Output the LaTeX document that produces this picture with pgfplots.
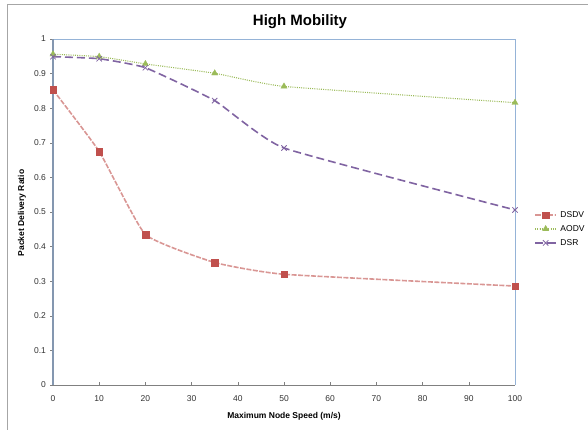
\documentclass[border=0pt]{standalone}
\usepackage{pgfplots}
\pgfplotsset{compat=1.18}
\usepackage{fontspec}
\setmainfont{Liberation Sans}
\definecolor{dsdvline}{HTML}{D99694}
\definecolor{dsdvmark}{HTML}{C0504D}
\definecolor{aodv}{HTML}{9BBB59}
\definecolor{dsr}{HTML}{8064A2}
\definecolor{leftax}{HTML}{8497B0}
\definecolor{topax}{HTML}{95B3D7}
\definecolor{frame}{HTML}{A6A6A6}
\begin{document}
\begin{tikzpicture}[x=1pt,y=1pt]
\useasboundingbox (0,0) rectangle (588,429);
\draw[frame, line width=0.8pt] (7,-2) -- (7,425) -- (590,425);
\node[anchor=base, font=\bfseries\fontsize{15}{18}\selectfont] at (300,403) {High Mobility};
\node[anchor=base, font=\bfseries\fontsize{8.5}{10}\selectfont] at (284,11) {Maximum Node Speed (m/s)};
\node[rotate=90, font=\bfseries\fontsize{8.5}{10}\selectfont] at (22,216) {Packet Delivery Ratio};
\begin{axis}[
  at={(53pt,44pt)}, anchor=south west,
  width=462pt, height=346pt, scale only axis,
  xmin=0, xmax=100, ymin=0, ymax=1,
  xtick={0,10,...,100}, ytick={0,0.1,...,1},
  axis line style={draw=none},
  clip=false,
  tick align=inside,
  major tick length=3pt,
  xtick pos=bottom, ytick pos=left,
  x tick style={black!50, line width=0.5pt},
  y tick style={black!50, line width=0.5pt, xshift=-3pt},
  /pgf/number format/assume math mode=true,
  ticklabel style={font=\fontsize{8.5}{10}\selectfont, text=black!80},
  xticklabel style={yshift=-7pt},
  yticklabel style={xshift=-3.5pt},
  yticklabel style={/pgf/number format/fixed},
  legend style={draw=none, fill=none, at={(1.035,0.451)}, anchor=west,
    font=\fontsize{8.5}{10}\selectfont, row sep=2.5pt, column sep=1.5pt},
  legend cell align=left,
  legend image code/.code={\draw[mark repeat=2,mark phase=2,#1] plot coordinates {(0pt,0pt)(10.5pt,0pt)(21pt,0pt)};},
]
\draw[black!50, line width=0.8pt] (axis cs:0,0) -- (axis cs:100,0);
\draw[topax, line width=0.9pt] (axis cs:0,1) -- (axis cs:100,1) -- (axis cs:100,0);
\draw[leftax, line width=1.8pt] (axis cs:0,0) -- (axis cs:0,1);
\addplot[dsdvline, line width=1.6pt, dash pattern=on 5pt off 1.5pt, smooth, tension=0.25,
  mark=square*, mark size=3.3pt, mark options={solid, fill=dsdvmark, draw=dsdvmark, line width=0.4pt}]
  coordinates {(0,0.853) (10,0.675) (20,0.435) (35,0.354) (50,0.320) (100,0.286)};
\addlegendentry{DSDV}
\addplot[aodv, line width=1.1pt, dash pattern=on 1pt off 1.2pt, smooth, tension=0.25,
  mark=triangle*, mark size=3.6pt, mark options={solid, fill=aodv, draw=aodv, line width=0.3pt}]
  coordinates {(0,0.956) (10,0.949) (20,0.928) (35,0.901) (50,0.863) (100,0.816)};
\addlegendentry{AODV}
\addplot[dsr, line width=1.6pt, dash pattern=on 8pt off 4pt, smooth, tension=0.25,
  mark=x, mark size=3.8pt, mark options={solid, line width=0.8pt}]
  coordinates {(0,0.949) (10,0.943) (20,0.917) (35,0.822) (50,0.685) (100,0.506)};
\addlegendentry{DSR}
\end{axis}
\end{tikzpicture}
\end{document}
